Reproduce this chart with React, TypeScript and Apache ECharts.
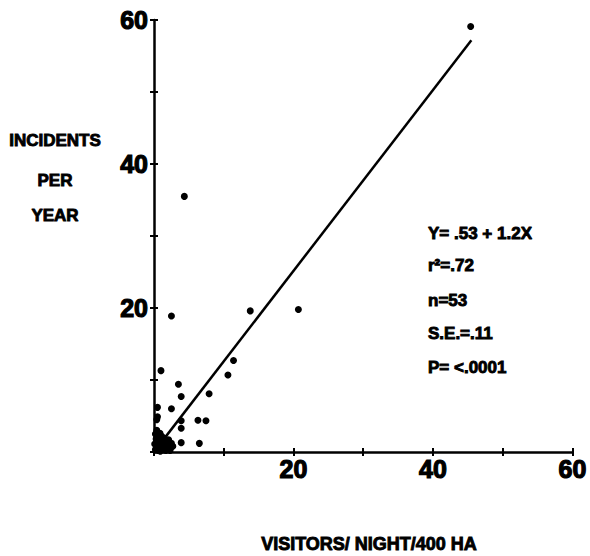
import React, { useEffect, useRef } from "react";
import * as echarts from "echarts";

const xTickLabels = ["20", "40", "60"];
const yTickLabels = ["20", "40", "60"];

// scattered points
const outerPoints: [number, number][] = [
  [45.4, 59.1], [4.35, 35.5], [2.5, 18.9], [13.8, 19.6], [20.7, 19.8],
  [11.4, 12.7], [10.6, 10.7], [1.0, 11.3], [3.5, 9.4], [3.9, 7.7],
  [7.9, 8.1], [0.5, 6.2], [2.5, 6.0], [0.5, 4.9], [0.4, 4.5],
  [3.9, 4.35], [6.3, 4.4], [7.45, 4.35], [3.9, 3.3], [0.86, 2.6],
  [3.9, 1.3], [6.5, 1.2],
];

// dense cluster near the origin (estimated)
const clusterPoints: [number, number][] = [
  [0.2, 0.3], [0.4, 0.8], [0.6, 0.2], [0.8, 1.2], [1.0, 0.5], [1.2, 1.6],
  [1.4, 0.3], [1.6, 0.9], [1.8, 1.5], [2.0, 0.4], [2.2, 1.1], [2.4, 0.6],
  [0.3, 1.8], [0.5, 1.3], [0.7, 2.0], [0.9, 0.1], [1.1, 2.2], [1.3, 1.0],
  [1.5, 1.9], [1.7, 0.2], [1.9, 0.8], [2.1, 1.7], [2.3, 0.2], [2.5, 1.2],
  [0.2, 2.5], [0.4, 3.0], [1.0, 1.4], [0.6, 1.0], [0.1, 1.1], [0.3, 0.5],
  [2.7, 0.8],
];

// regression line endpoints as drawn
const fitLine: [number, number][] = [[0.3, 0.4], [45.5, 57.2]];

const statLines = ["Y= .53 + 1.2X", "r\u00B2=.72", "n=53", "S.E.=.11", "P= <.0001"];
const yTitleLines = ["INCIDENTS", "PER", "YEAR"];
const xTitle = "VISITORS/ NIGHT/400 HA";

const FONT = "'Liberation Sans', Arial, sans-serif";

export default function App() {
  const ref = useRef<HTMLDivElement>(null);
  useEffect(() => {
    if (!ref.current) return;
    const chart = echarts.init(ref.current, null, { renderer: "svg" });
    const labelFmt = (list: string[]) => (v: number) =>
      list.includes(String(v)) ? String(v) : "";
    const statY = [233, 265, 300, 333, 367];
    const yTitleY = [140, 180, 215];
    const heavy = { stroke: "#000", lineWidth: 0.9 };
    chart.setOption({
      animation: false,
      backgroundColor: "#fff",
      grid: { left: 154, right: 17, top: 20, bottom: 104, containLabel: false },
      xAxis: [
        {
          type: "value", min: 0, max: 60, interval: 10, position: "bottom",
          axisLine: { show: true, onZero: false, lineStyle: { color: "#000", width: 2.5 } },
          axisTick: { show: true, length: 4, lineStyle: { color: "#000", width: 2 } },
          axisLabel: {
            formatter: labelFmt(xTickLabels), color: "#000", fontSize: 25,
            fontWeight: "bold", fontFamily: FONT, margin: 4,
            textBorderColor: "#000", textBorderWidth: 1.2,
          },
          splitLine: { show: false },
        },
        {
          type: "value", min: 0, max: 60, interval: 10, position: "bottom",
          axisLine: { show: false },
          axisTick: { show: true, inside: true, length: 4, lineStyle: { color: "#000", width: 2 } },
          axisLabel: { show: false },
          splitLine: { show: false },
        },
      ],
      yAxis: [
        {
          type: "value", min: 0, max: 60, interval: 10, position: "left",
          axisLine: { show: true, onZero: false, lineStyle: { color: "#000", width: 2.5 } },
          axisTick: { show: true, length: 4, lineStyle: { color: "#000", width: 2 } },
          axisLabel: {
            formatter: labelFmt(yTickLabels), color: "#000", fontSize: 25,
            fontWeight: "bold", fontFamily: FONT, margin: 6,
            textBorderColor: "#000", textBorderWidth: 1.2,
          },
          splitLine: { show: false },
        },
        {
          type: "value", min: 0, max: 60, interval: 10, position: "left",
          axisLine: { show: false },
          axisTick: { show: true, inside: true, length: 4, lineStyle: { color: "#000", width: 2 } },
          axisLabel: { show: false },
          splitLine: { show: false },
        },
      ],
      series: [
        {
          type: "scatter", data: outerPoints, symbolSize: 7, clip: false,
          itemStyle: { color: "#000", opacity: 1 },
        },
        {
          type: "scatter", data: clusterPoints, symbolSize: 7, clip: false,
          itemStyle: { color: "#000", opacity: 1 },
        },
        {
          type: "line", data: fitLine, symbol: "none", clip: false,
          lineStyle: { color: "#000", width: 2.5 },
        },
      ],
      graphic: [
        ...statLines.map((t, i) => ({
          type: "text", x: 428, y: statY[i],
          style: {
            text: t, fill: "#000", font: `bold 17px ${FONT}`,
            verticalAlign: "middle", ...heavy,
          },
        })),
        ...yTitleLines.map((t, i) => ({
          type: "text", x: 55, y: yTitleY[i],
          style: {
            text: t, fill: "#000", font: `bold 17px ${FONT}`,
            align: "center", verticalAlign: "middle", ...heavy,
          },
        })),
        {
          type: "text", x: 369, y: 544,
          style: {
            text: xTitle, fill: "#000", font: `bold 18px ${FONT}`,
            align: "center", verticalAlign: "middle", ...heavy,
          },
        },
      ],
    });
    return () => chart.dispose();
  }, []);
  return (
    <div
      ref={ref}
      style={{ position: "fixed", left: 0, top: 0, width: 590, height: 556 }}
    />
  );
}
